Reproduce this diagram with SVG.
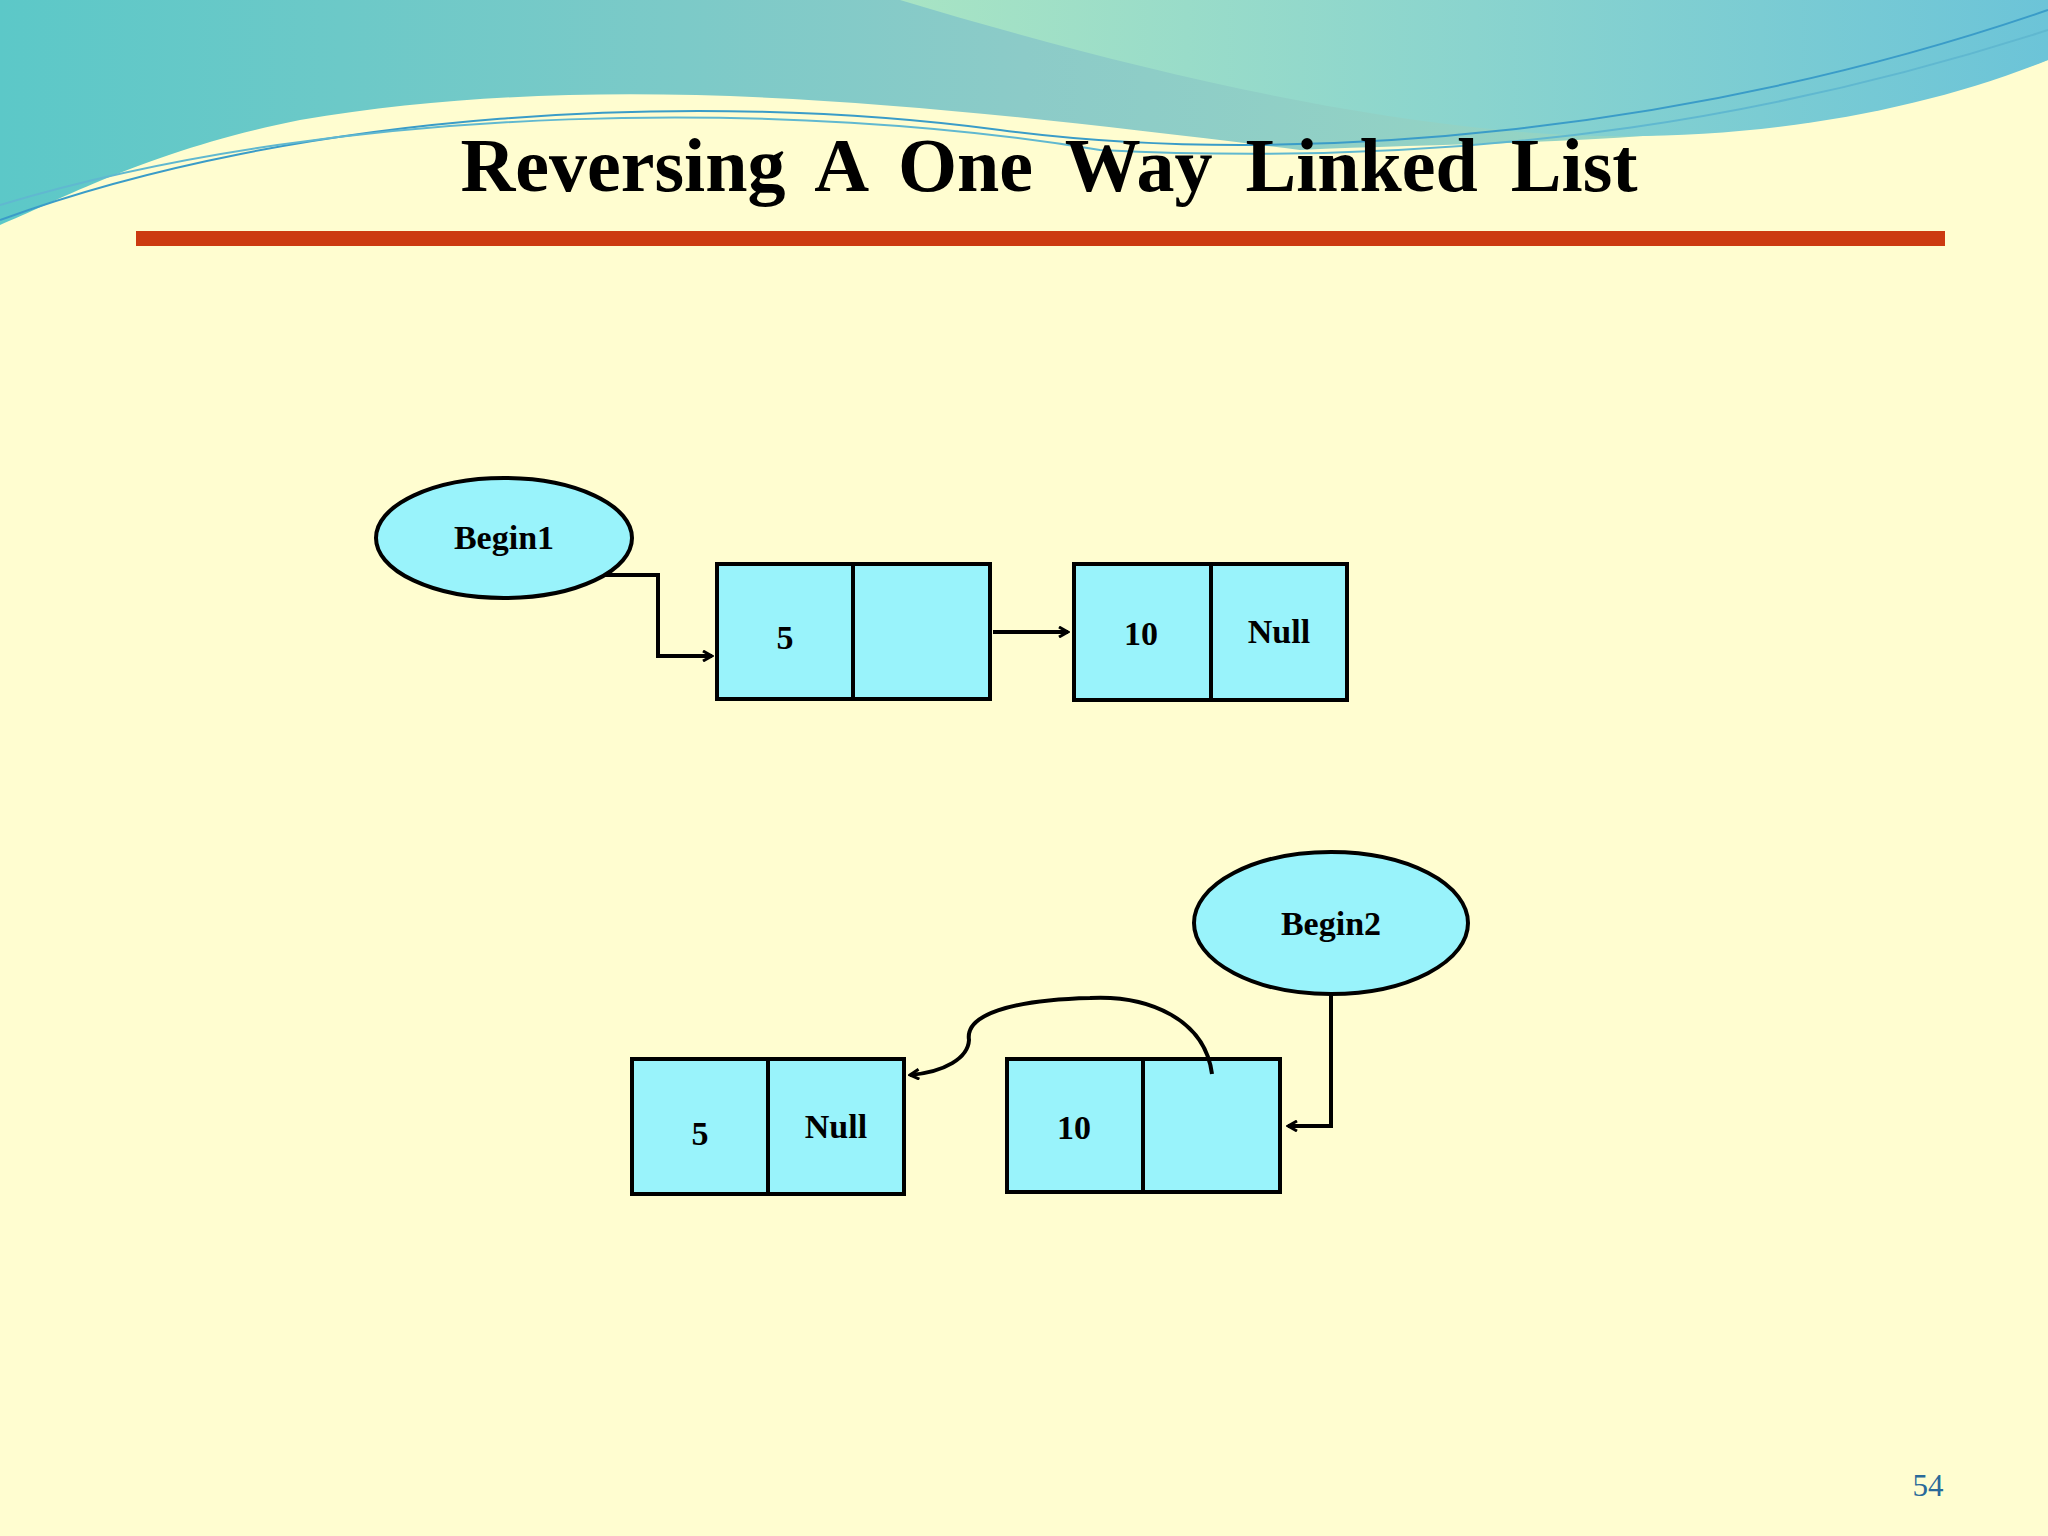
<svg xmlns="http://www.w3.org/2000/svg" width="2048" height="1536" viewBox="0 0 2048 1536">
<defs>
<linearGradient id="bg1" x1="0" y1="0" x2="1" y2="0"><stop offset="0" stop-color="#5cc8c8"/><stop offset="0.5" stop-color="#8ccbc8"/><stop offset="1" stop-color="#9cdcc0"/></linearGradient>
<linearGradient id="bg2" x1="0" y1="0" x2="1" y2="0"><stop offset="0" stop-color="#a8e4c4"/><stop offset="1" stop-color="#6cc4d8"/></linearGradient>
<marker id="ah" markerWidth="12" markerHeight="12" refX="10" refY="6" orient="auto" markerUnits="userSpaceOnUse"><path d="M1,1 L10,6 L1,11" fill="none" stroke="#000" stroke-width="3"/></marker>
</defs>
<style>
.node{fill:#99f3fb;stroke:#000;stroke-width:4}
.t{font-family:"Liberation Serif",serif;font-weight:bold;font-size:34px;fill:#000;text-anchor:middle}
.c{fill:none;stroke:#000;stroke-width:4}
</style>
<rect width="2048" height="1536" fill="#fffdd0"/>
<g id="banner">
<path d="M0,0 H2048 V60 C1800,150 1500,140 1300,150 C900,100 600,70 300,120 C150,150 60,200 0,225 Z" fill="url(#bg1)"/>
<path d="M900,0 H2048 V60 C1900,120 1700,150 1500,130 C1300,110 1100,60 900,0 Z" fill="url(#bg2)"/>
<path d="M0,220 C300,110 700,90 1000,130 C1300,170 1700,130 2048,10" fill="none" stroke="#3a9cc8" stroke-width="2"/>
<path d="M0,205 C350,100 800,100 1100,150 C1500,170 1800,110 2048,30" fill="none" stroke="#60b8d0" stroke-width="2"/>
</g>
<text x="1049" y="191" font-family="Liberation Serif,serif" font-weight="bold" font-size="76" text-anchor="middle" word-spacing="14">Reversing A One Way Linked List</text>
<rect x="136" y="231" width="1809" height="15" fill="#cc3a10"/>
<g id="begin1"><ellipse class="node" cx="504" cy="538" rx="128" ry="60"/><text class="t" x="504" y="549">Begin1</text></g>
<g id="n5a"><rect class="node" x="717" y="564" width="273" height="135"/><line class="c" x1="853" y1="564" x2="853" y2="699"/><text class="t" x="785" y="649">5</text></g>
<g id="n10a"><rect class="node" x="1074" y="564" width="273" height="136"/><line class="c" x1="1211" y1="564" x2="1211" y2="700"/><text class="t" x="1141" y="645">10</text><text class="t" x="1279" y="643">Null</text></g>
<g id="begin2"><ellipse class="node" cx="1331" cy="923" rx="137" ry="71"/><text class="t" x="1331" y="935">Begin2</text></g>
<g id="n5b"><rect class="node" x="632" y="1059" width="272" height="135"/><line class="c" x1="768" y1="1059" x2="768" y2="1194"/><text class="t" x="700" y="1145">5</text><text class="t" x="836" y="1138">Null</text></g>
<g id="n10b"><rect class="node" x="1007" y="1059" width="273" height="133"/><line class="c" x1="1143" y1="1059" x2="1143" y2="1192"/><text class="t" x="1074" y="1139">10</text></g>
<g id="connectors">
<path class="c" d="M605,575 H658 V656 H712" marker-end="url(#ah)"/>
<path class="c" d="M993,632 H1068" marker-end="url(#ah)"/>
<path class="c" d="M1331,993 V1126 H1288" marker-end="url(#ah)"/>
<path class="c" d="M1212,1074 C1205,1020 1150,995 1090,998 C1010,1000 965,1015 969,1040 C968,1058 945,1072 910,1075" marker-end="url(#ah)"/>
</g>
<text x="1928" y="1496" font-family="Liberation Serif,serif" font-size="31" fill="#2a6a9a" text-anchor="middle">54</text>
</svg>
